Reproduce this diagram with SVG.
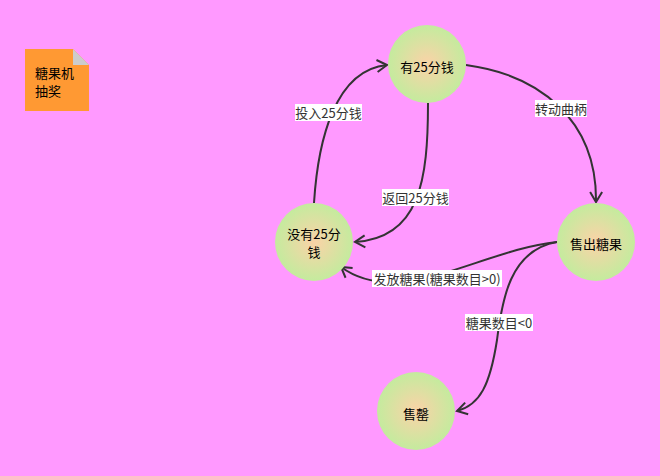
<svg xmlns="http://www.w3.org/2000/svg" width="660" height="476" viewBox="0 0 660 476">
<style>
.bg{fill:#ff99ff}
.node circle{fill:url(#g)}
.nt{font-family:"Noto Sans CJK SC","Noto Sans",sans-serif;font-size:13px;fill:#000;text-anchor:middle;dominant-baseline:central}
.edge{fill:none;stroke:#333;stroke-width:2;marker-end:url(#a)}
.lb{fill:#fff}
.lt{font-family:"Noto Sans CJK SC","Noto Sans",sans-serif;font-size:13px;fill:#333;text-anchor:middle;dominant-baseline:central}
</style>
<defs>
<radialGradient id="g" cx="50%" cy="50%" r="50%">
<stop offset="0" stop-color="#f8d3a6"/>
<stop offset="0.15" stop-color="#f3d6a6"/>
<stop offset="1" stop-color="#c4eb9e"/>
</radialGradient>
<marker id="a" viewBox="-12 -8 14 16" markerWidth="14" markerHeight="16" refX="0" refY="0" orient="auto" markerUnits="userSpaceOnUse">
<path d="M-10,-6 L0,0 L-10,6" fill="none" stroke="#333" stroke-width="2"/>
</marker>
</defs>
<rect class="bg" x="0" y="0" width="660" height="476"/>
<g id="note">
<path d="M25,49 H73 L89,65 V111 H25 Z" fill="#ff9933"/>
<path d="M73,49 L89,65 H73 Z" fill="#cccccc"/>
<text x="35" y="72" font-family="Noto Sans CJK SC,sans-serif" font-size="13" fill="#000" dominant-baseline="central">糖果机</text>
<text x="35" y="90" font-family="Noto Sans CJK SC,sans-serif" font-size="13" fill="#000" dominant-baseline="central">抽奖</text>
</g>
<g id="connectors">
<path class="edge" d="M314,203 C318,140 335,70 387,65"/>
<path class="edge" d="M428,103 C428,180 420,238 355,242"/>
<path class="edge" d="M466,65 C540,75 597,120 596,202"/>
<path class="edge" d="M557,242 C480,250 400,310 341,267"/>
<path class="edge" d="M557,242 C510,250 502,300 497,340 C490,385 480,405 457,411"/>
<rect class="lb" x="295" y="104" width="67" height="17"/>
<text class="lt" x="328.5" y="112.5">投入25分钱</text>
<rect class="lb" x="382" y="189" width="67" height="17"/>
<text class="lt" x="415.5" y="197.5">返回25分钱</text>
<rect class="lb" x="535" y="100" width="52" height="17"/>
<text class="lt" x="561" y="108.5">转动曲柄</text>
<rect class="lb" x="372" y="270" width="130" height="17"/>
<text class="lt" x="437" y="278.5">发放糖果(糖果数目&gt;0)</text>
<rect class="lb" x="465" y="314" width="68" height="17"/>
<text class="lt" x="499" y="322.5">糖果数目&lt;0</text>
</g>
<g id="n1" class="node"><circle cx="427" cy="64" r="39"/><text class="nt" x="427" y="66">有25分钱</text></g>
<g id="n2" class="node"><circle cx="314" cy="242" r="39"/><text class="nt" x="314" y="233">没有25分</text><text class="nt" x="314" y="251">钱</text></g>
<g id="n3" class="node"><circle cx="596" cy="242" r="39"/><text class="nt" x="596" y="243">售出糖果</text></g>
<g id="n4" class="node"><circle cx="416" cy="411" r="39"/><text class="nt" x="416" y="413">售罄</text></g>
</svg>
